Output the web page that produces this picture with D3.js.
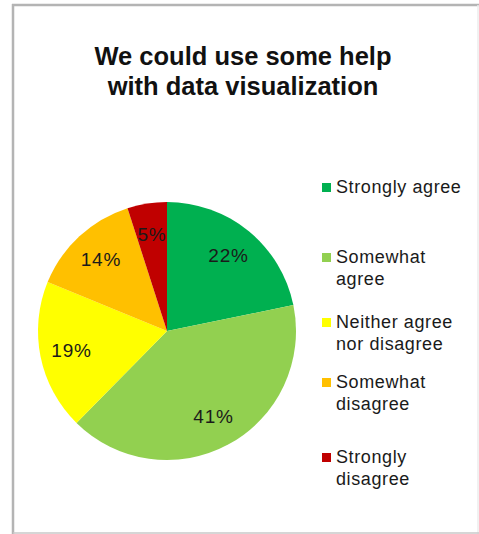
<!DOCTYPE html>
<html><head><meta charset="utf-8">
<script src="https://cdn.jsdelivr.net/npm/d3@7"></script>
<style>html,body{margin:0;padding:0;background:#fff;}svg{display:block;}</style>
</head><body>
<svg id="c" width="479" height="534"></svg>
<script>
const categories = ["Strongly agree", "Somewhat agree", "Neither agree nor disagree", "Somewhat disagree", "Strongly disagree"];
const legendLines = [["Strongly agree"], ["Somewhat", "agree"], ["Neither agree", "nor disagree"], ["Somewhat", "disagree"], ["Strongly", "disagree"]];
const values = [22, 41, 19, 14, 5];
const labels = ["22%", "41%", "19%", "14%", "5%"];
const colors = ["#00B050", "#92D050", "#FFFF00", "#FFC000", "#C00000"];
const titleLines = ["We could use some help", "with data visualization"];

const svg = d3.select("#c");
const font = "Arial, 'Liberation Sans', sans-serif";

// frame
svg.append("line").attr("x1", 13).attr("y1", 4).attr("x2", 13).attr("y2", 534).attr("stroke", "#b4b4b4").attr("stroke-width", 2.5);
svg.append("line").attr("x1", 12).attr("y1", 5).attr("x2", 479).attr("y2", 5).attr("stroke", "#b4b4b4").attr("stroke-width", 2.5);
svg.append("line").attr("x1", 478).attr("y1", 5).attr("x2", 478).attr("y2", 534).attr("stroke", "#ececec").attr("stroke-width", 1.5);
svg.append("line").attr("x1", 13).attr("y1", 533).attr("x2", 479).attr("y2", 533).attr("stroke", "#c8c8c8").attr("stroke-width", 1.5);

// title
svg.append("text").attr("x", 243).attr("y", 65).attr("text-anchor", "middle")
  .attr("font-family", font).attr("font-weight", "bold").attr("font-size", 25.5).attr("fill", "#111")
  .selectAll("tspan").data(titleLines).join("tspan")
  .attr("x", 243).attr("dy", (d, i) => i === 0 ? 0 : 30).text(d => d);

// pie
const cx = 167, cy = 331, r = 129;
const pie = d3.pie().sort(null).value(d => d)(values);
const arc = d3.arc().innerRadius(0).outerRadius(r);
const labelArc = d3.arc().innerRadius(r * 0.755).outerRadius(r * 0.755);
const g = svg.append("g").attr("transform", `translate(${cx},${cy})`);
g.selectAll("path").data(pie).join("path")
  .attr("d", arc).attr("fill", (d, i) => colors[i]);
g.selectAll("text").data(pie).join("text")
  .attr("transform", d => `translate(${labelArc.centroid(d)})`)
  .attr("text-anchor", "middle").attr("dominant-baseline", "central")
  .attr("font-family", font).attr("font-size", 19).attr("letter-spacing", 0.8).attr("fill", "#1a1a1a")
  .text((d, i) => labels[i]);

// legend
const legendY = [183, 253, 318, 378, 453];
const lg = svg.append("g");
categories.forEach((c, i) => {
  lg.append("rect").attr("x", 322).attr("y", legendY[i]).attr("width", 9).attr("height", 9).attr("fill", colors[i]);
  const t = lg.append("text").attr("x", 336).attr("y", legendY[i] + 10)
    .attr("font-family", font).attr("font-size", 18).attr("letter-spacing", 0.6).attr("fill", "#1a1a1a");
  legendLines[i].forEach((ln, j) => {
    t.append("tspan").attr("x", 336).attr("dy", j === 0 ? 0 : 22).text(ln);
  });
});
</script>
</body></html>
